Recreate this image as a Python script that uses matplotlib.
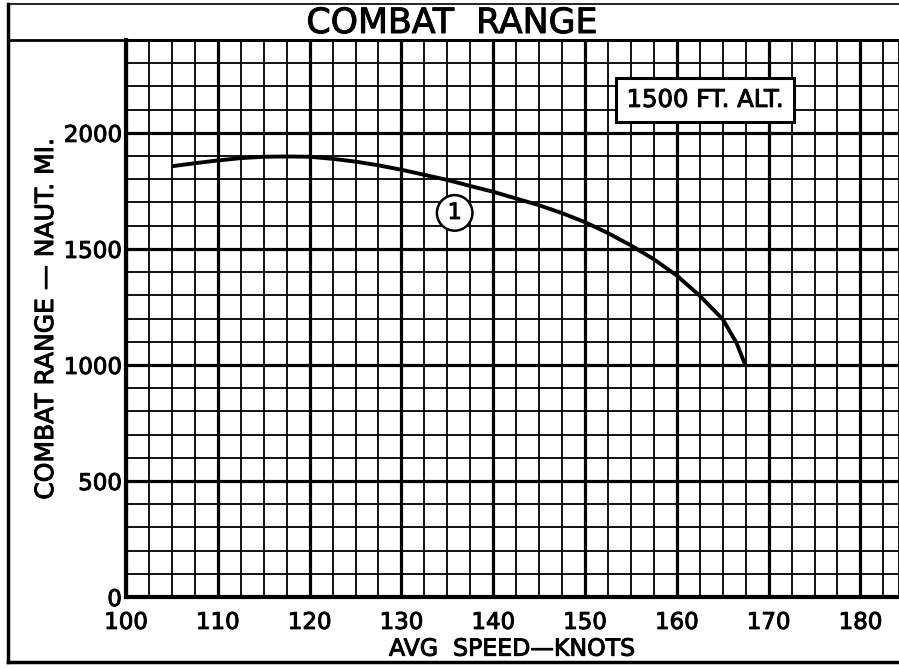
import matplotlib
matplotlib.use("Agg")
import matplotlib.pyplot as plt
import matplotlib.patheffects as pe
from matplotlib.ticker import MultipleLocator
from matplotlib.lines import Line2D

# curve 1
speed_knots = [105, 107.5, 110, 112.5, 115, 117.5, 120, 122.5, 125, 127.5,
               130, 132.5, 135, 137.5, 140, 142.5, 145, 147.5, 150, 152.5,
               155, 157.5, 160, 162.5, 165, 166.5, 167.4]
range_nm = [1856, 1869, 1881, 1891, 1897, 1898, 1897, 1888, 1876, 1860,
            1841, 1819, 1797, 1771, 1746, 1717, 1688, 1654, 1615, 1568,
            1515, 1455, 1385, 1298, 1197, 1095, 1005]

x_ticks = [100, 110, 120, 130, 140, 150, 160, 170, 180]
y_ticks = [0, 500, 1000, 1500, 2000]

plt.rcParams['font.family'] = ['DejaVu Sans']
heavy = [pe.withStroke(linewidth=0.7, foreground='black')]

fig = plt.figure(figsize=(8.99, 6.68), dpi=100)
ax = fig.add_axes([126 / 899, 71 / 668, 773 / 899, 557 / 668])

ax.set_xlim(100, 184.2)
ax.set_ylim(0, 2400)

ax.xaxis.set_minor_locator(MultipleLocator(2.5))
ax.yaxis.set_minor_locator(MultipleLocator(100))
ax.set_xticks(x_ticks)
ax.set_yticks(y_ticks)
ax.set_xticklabels([str(t) for t in x_ticks], fontsize=16.5)
ax.set_yticklabels([str(t) for t in y_ticks], fontsize=16.5)
for lab in ax.get_xticklabels() + ax.get_yticklabels():
    lab.set_path_effects(heavy)

ax.grid(which='major', color='black', lw=2.3)
ax.grid(which='minor', color='black', lw=1.3)
ax.set_axisbelow(True)
ax.tick_params(which='both', length=0)
ax.tick_params(axis='x', pad=10)
ax.tick_params(axis='y', pad=3)

for side in ['left', 'bottom']:
    ax.spines[side].set_linewidth(3)
ax.spines['top'].set_linewidth(2)
ax.spines['right'].set_linewidth(2)

ax.plot(speed_knots, range_nm, color='black', lw=2.8,
        solid_capstyle='butt', solid_joinstyle='round')

# curve number
ax.text(135.8, 1655, '1', fontsize=16, ha='center', va='center',
        path_effects=heavy,
        bbox=dict(boxstyle='circle,pad=0.35', fc='white', ec='black', lw=1.8))

# altitude box
ax.text(163.1, 2142, '1500 FT. ALT.', fontsize=17.5, ha='center', va='center',
        path_effects=heavy,
        bbox=dict(boxstyle='square,pad=0.42', fc='white', ec='black', lw=2.2))

ax.set_xlabel('AVG  SPEED\u2014KNOTS', fontsize=17, labelpad=2,
              path_effects=heavy)
ax.set_ylabel('COMBAT RANGE \u2014 NAUT. MI.', fontsize=18, labelpad=4,
              path_effects=heavy)

# title strip and outer frame
fig.text(452 / 899, 1 - 23 / 668, 'COMBAT  RANGE', fontsize=25,
         ha='center', va='center', path_effects=heavy)
fig.add_artist(Line2D([8 / 899, 1], [1 - 40 / 668, 1 - 40 / 668],
                      color='black', lw=2))
fig.add_artist(Line2D([8 / 899, 8 / 899], [6 / 668, 1 - 4 / 668],
                      color='black', lw=2.5))
fig.add_artist(Line2D([8 / 899, 1], [6 / 668, 6 / 668], color='black', lw=2.5))
fig.add_artist(Line2D([8 / 899, 1], [1 - 4 / 668, 1 - 4 / 668],
                      color='black', lw=1.2))

fig.savefig('out.png', dpi=100)
